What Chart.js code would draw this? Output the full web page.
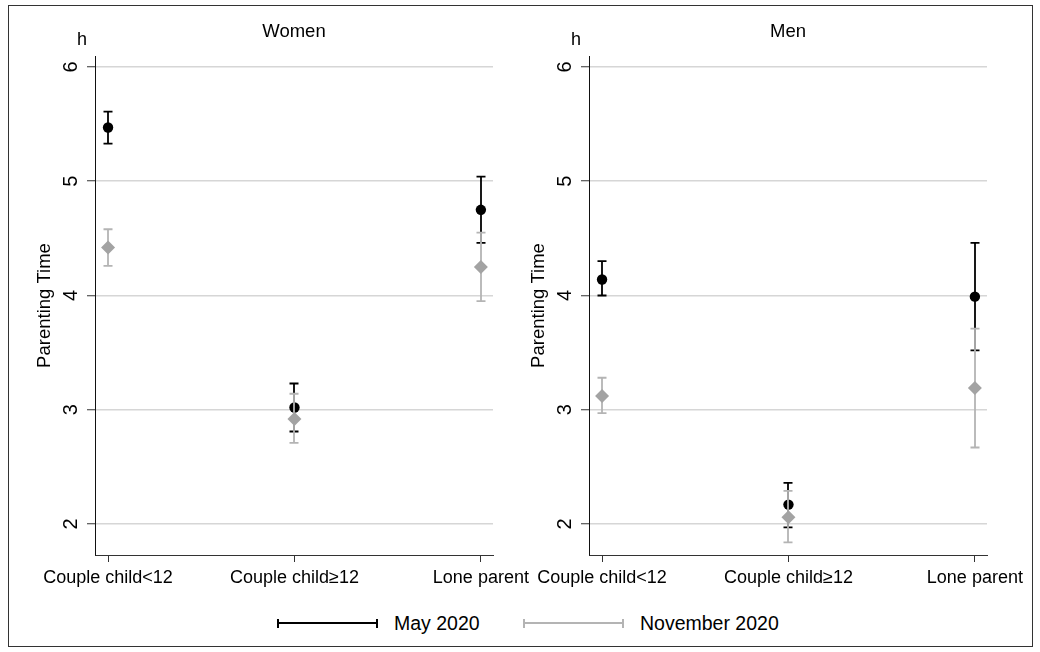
<!DOCTYPE html>
<html>
<head>
<meta charset="utf-8">
<title>Parenting Time by household type</title>
<script src="https://cdn.jsdelivr.net/npm/chart.js@4.4.1/dist/chart.umd.min.js"></script>
<style>
  html, body { margin: 0; padding: 0; background: #fff; }
  body { width: 1040px; height: 652px; position: relative; overflow: hidden;
         font-family: "Liberation Sans", Arial, sans-serif; color: #000; }
  #frame { position: absolute; left: 8px; top: 5px; width: 1025px; height: 642px;
           border: 1px solid #333; box-sizing: border-box; }
  canvas { position: absolute; top: 0; }
  #cWomen { left: 0; }
  #cMen { left: 494px; }
  .key { position: absolute; top: 619px; height: 9px; box-sizing: border-box;
         border-left: 2px solid currentColor; border-right: 2px solid currentColor; }
  .key::after { content: ""; position: absolute; left: 0; right: 0; top: 3px; height: 2px;
                background: currentColor; }
  .keyLabel { position: absolute; top: 611px; font-size: 19.5px; line-height: 24px; white-space: nowrap; }
</style>
</head>
<body>
<div id="frame"></div>
<canvas id="cWomen" width="540" height="600"></canvas>
<canvas id="cMen" width="540" height="600"></canvas>

<div class="key" style="left:277px;width:101px;color:#000"></div>
<div class="keyLabel" style="left:394px">May 2020</div>
<div class="key" style="left:523px;width:101px;color:#b4b4b4"></div>
<div class="keyLabel" style="left:640px">November 2020</div>

<script>
// Household types on the x axis
const categories = ['Couple child<12', 'Couple child\u226512', 'Lone parent'];
const yTicks = [2, 3, 4, 5, 6];

// Women: mean parenting hours with 95% confidence bounds
const womenMay   = [5.47, 3.02, 4.75];
const womenMayLo = [5.33, 2.81, 4.46];
const womenMayHi = [5.61, 3.23, 5.04];
const womenNov   = [4.42, 2.92, 4.25];
const womenNovLo = [4.26, 2.71, 3.95];
const womenNovHi = [4.58, 3.14, 4.55];

// Men: mean parenting hours with 95% confidence bounds
const menMay   = [4.14, 2.17, 3.99];
const menMayLo = [4.00, 1.97, 3.52];
const menMayHi = [4.30, 2.36, 4.46];
const menNov   = [3.12, 2.06, 3.19];
const menNovLo = [2.97, 1.84, 2.67];
const menNovHi = [3.28, 2.29, 3.71];

const FONT = '"Liberation Sans", Arial, sans-serif';
const MAY_COLOR = '#000000';
const NOV_POINT = '#a3a3a3';
const NOV_BAR = '#b4b4b4';

// Capped vertical interval drawn under each dataset's markers
const errorBars = {
  id: 'errorBars',
  beforeDatasetDraw(chart, args) {
    const ds = chart.data.datasets[args.index];
    if (!ds.errLo) return;
    const xs = chart.scales.x, ys = chart.scales.y, ctx = chart.ctx;
    ctx.save();
    ctx.strokeStyle = ds.barColor;
    ctx.lineWidth = 1.8;
    ds.data.forEach((p, i) => {
      const px = Math.round(xs.getPixelForValue(p.x));
      const top = ys.getPixelForValue(ds.errHi[i]);
      const bot = ys.getPixelForValue(ds.errLo[i]);
      ctx.beginPath();
      ctx.moveTo(px, top); ctx.lineTo(px, bot);
      ctx.moveTo(px - 4.5, top); ctx.lineTo(px + 4.5, top);
      ctx.moveTo(px - 4.5, bot); ctx.lineTo(px + 4.5, bot);
      ctx.stroke();
    });
    ctx.restore();
  }
};

// Unit label above the value axis
const unitLabel = {
  id: 'unitLabel',
  afterDraw(chart) {
    const ctx = chart.ctx;
    ctx.save();
    ctx.fillStyle = '#000';
    ctx.font = '18px ' + FONT;
    ctx.textAlign = 'center';
    ctx.textBaseline = 'middle';
    ctx.fillText('h', chart.chartArea.left - 13, 40);
    ctx.restore();
  }
};

function makePanel(id, title, may, mayLo, mayHi, nov, novLo, novHi) {
  const toPts = arr => arr.map((v, i) => ({ x: i, y: v }));
  return new Chart(document.getElementById(id), {
    type: 'scatter',
    data: {
      datasets: [
        { label: 'November 2020', data: toPts(nov), errLo: novLo, errHi: novHi, barColor: NOV_BAR,
          pointStyle: 'rectRot', pointRadius: 7, backgroundColor: NOV_POINT, borderWidth: 0, showLine: false },
        { label: 'May 2020', data: toPts(may), errLo: mayLo, errHi: mayHi, barColor: MAY_COLOR,
          pointStyle: 'circle', pointRadius: 5.2, backgroundColor: MAY_COLOR, borderWidth: 0, showLine: false }
      ]
    },
    options: {
      responsive: false,
      devicePixelRatio: 1,
      animation: false,
      events: [],
      layout: { padding: { left: 34, right: 47, top: 12, bottom: 0 } },
      plugins: {
        legend: { display: false },
        tooltip: { enabled: false },
        title: {
          display: true, text: title, fullSize: false, color: '#000',
          font: { family: FONT, size: 18.5, weight: 'normal' },
          padding: { top: 8.9, bottom: 12.9 }
        }
      },
      scales: {
        x: {
          type: 'linear', position: 'bottom', min: -0.07, max: 2.065,
          afterBuildTicks: s => { s.ticks = categories.map((c, i) => ({ value: i })); },
          afterFit: s => { s.height = 45; },
          ticks: { callback: v => categories[v], color: '#000', padding: 5,
                   font: { family: FONT, size: 18 }, maxRotation: 0, minRotation: 0 },
          grid: { drawOnChartArea: false, drawTicks: true, tickLength: 7, tickColor: '#333', tickWidth: 1 },
          border: { color: '#333', width: 1 }
        },
        y: {
          type: 'linear', position: 'left', min: 1.729, max: 6.096,
          afterBuildTicks: s => { s.ticks = yTicks.map(v => ({ value: v })); },
          afterFit: s => { s.width = 61; },
          ticks: { minRotation: 90, maxRotation: 90, crossAlign: 'center', padding: 10.4,
                   color: '#000', font: { family: FONT, size: 20 } },
          grid: { color: '#d6d6d6', lineWidth: 1.5, tickColor: '#333', tickLength: 8, tickWidth: 1 },
          border: { color: '#111', width: 1 },
          title: { display: true, text: 'Parenting Time', color: '#000', padding: 0,
                   font: { family: FONT, size: 18.5 } }
        }
      }
    },
    plugins: [errorBars, unitLabel]
  });
}

makePanel('cWomen', 'Women', womenMay, womenMayLo, womenMayHi, womenNov, womenNovLo, womenNovHi);
makePanel('cMen', 'Men', menMay, menMayLo, menMayHi, menNov, menNovLo, menNovHi);
</script>
</body>
</html>
